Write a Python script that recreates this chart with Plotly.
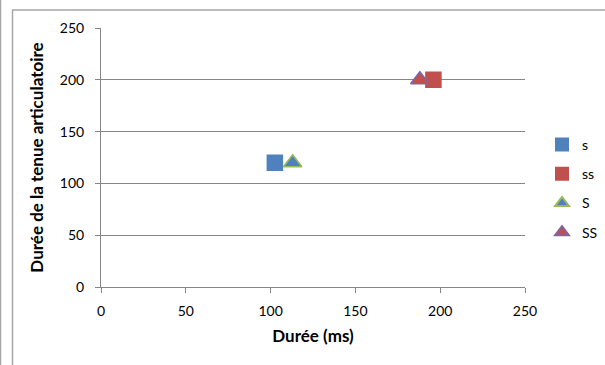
import plotly.graph_objects as go

series_names = ["s", "ss", "S", "SS"]
duree_ms = [102.5, 196, 113, 188]
tenue = [120, 200, 120, 200]
symbols = ["square", "square", "triangle-up", "triangle-up"]
fill_colors = ["#4F81BD", "#C0504D", "#4F81BD", "#C0504D"]
line_colors = ["#4F81BD", "#C0504D", "#9BBB59", "#8064A2"]
sizes = [15, 15, 16, 16]

x_ticks = [0, 50, 100, 150, 200, 250]
y_ticks = [0, 50, 100, 150, 200, 250]

FONT = "Lato, Liberation Sans, sans-serif"

fig = go.Figure()
for i, name in enumerate(series_names):
    fig.add_trace(go.Scatter(
        x=[duree_ms[i]], y=[tenue[i]], mode="markers", name=name,
        legendgroup=name,
        marker=dict(symbol=symbols[i], size=sizes[i], color=fill_colors[i],
                    line=dict(color=line_colors[i], width=1.5)),
    ))

L, R, T, B = 101, 80, 28, 78
W, H = 605, 365
pw, ph = W - L - R, H - T - B

def px(x):
    return (x - L) / pw

def py(y):
    return (H - B - y) / ph

shapes = [
    dict(type="line", xref="paper", yref="paper", x0=px(0.5), x1=px(0.5), y0=py(0), y1=py(365),
         line=dict(color="#A6A6A6", width=1.5)),
    dict(type="line", xref="paper", yref="paper", x0=px(12.5), x1=px(12.5), y0=py(10), y1=py(365),
         line=dict(color="#A6A6A6", width=1.5)),
    dict(type="line", xref="paper", yref="paper", x0=px(12), x1=px(605), y0=py(10), y1=py(10),
         line=dict(color="#A6A6A6", width=1.5)),
]

fig.update_layout(
    width=W, height=H,
    margin=dict(l=L, r=R, t=T, b=B, autoexpand=False),
    paper_bgcolor="white", plot_bgcolor="white",
    font=dict(family=FONT, size=14, color="#000000"),
    shapes=shapes,
    showlegend=True,
    legend=dict(x=px(542), xanchor="left", y=py(129), yanchor="top",
                font=dict(family=FONT, size=14), tracegroupgap=8,
                itemsizing="constant", bgcolor="rgba(0,0,0,0)"),
    xaxis=dict(range=[0, 250], tickvals=x_ticks, showgrid=False, zeroline=False,
               showline=True, linecolor="#868686", linewidth=1,
               ticks="outside", ticklen=5, tickcolor="#868686", ticklabelstandoff=6,
               tickfont=dict(family=FONT, size=14),
               title=dict(text="<b>Durée (ms)</b>", font=dict(family=FONT, size=17), standoff=12)),
    yaxis=dict(range=[0, 250], tickvals=y_ticks, showgrid=True, gridcolor="#868686", gridwidth=1,
               zeroline=False, showline=True, linecolor="#868686", linewidth=1,
               ticks="outside", ticklen=5, tickcolor="#868686", ticklabelstandoff=8,
               tickfont=dict(family=FONT, size=14),
               title=dict(text="<b>Durée de la tenue articulatoire</b>", font=dict(family=FONT, size=17), standoff=11)),
)

fig.write_html("out.html", config={"displayModeBar": False},
               post_script="document.body.style.margin='0';")
